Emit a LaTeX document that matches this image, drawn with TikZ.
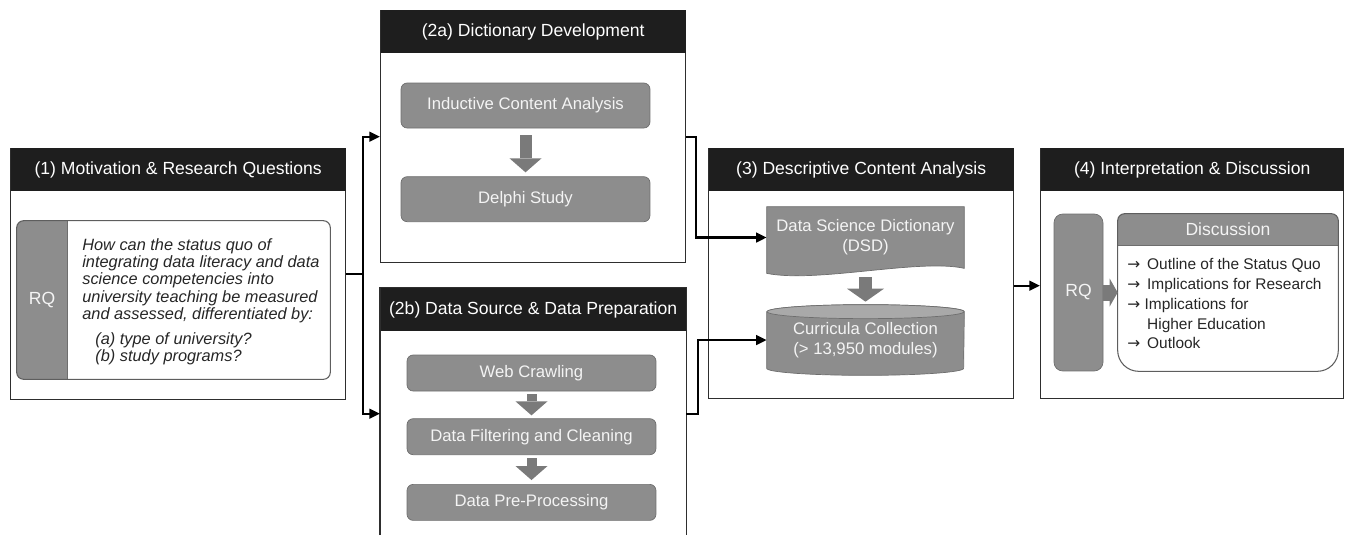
\documentclass[tikz,border=0pt]{standalone}
\usepackage{fontspec}
\setmainfont{Liberation Sans}
\newfontfamily\symfont{DejaVu Sans}
\newcommand\goto{{\symfont →}}
\usetikzlibrary{arrows.meta,positioning,backgrounds}

\definecolor{headblack}{HTML}{1E1E1E}
\definecolor{frameline}{HTML}{2E2E2E}
\definecolor{boxgray}{HTML}{8D8D8D}
\definecolor{boxedge}{HTML}{6E6E6E}
\definecolor{boxtext}{HTML}{F4F4F4}
\definecolor{toplid}{HTML}{A9A9A9}
\definecolor{arrowgray}{HTML}{7A7A7A}
\definecolor{rqline}{HTML}{5E5E5E}

\tikzset{
  panel/.style={draw=frameline, line width=0.8pt, anchor=north west, inner sep=0pt},
  head/.style={fill=headblack, text=white, font=\fontsize{10}{12}\selectfont,
    anchor=north, minimum height=0.86cm, inner sep=0pt},
  stepbox/.style={fill=boxgray, draw=boxedge, rounded corners=3.5pt, text=boxtext,
    font=\fontsize{9.5}{11.5}\selectfont, minimum width=4.98cm, align=center, inner sep=0pt},
  graytext/.style={text=boxtext, font=\fontsize{9.5}{11.5}\selectfont, align=center, inner sep=0pt},
  fatarrow/.style={draw=arrowgray, line width=0.24cm,
    -{Triangle[length=0.28cm, width=0.64cm, line width=0pt]}},
  link/.style={draw=black, line width=1.3pt, -{Triangle[length=6pt, width=5.5pt]}},
  wire/.style={draw=black, line width=1.3pt},
}

\begin{document}
\begin{tikzpicture}[x=0.02cm, y=-0.02cm]
\useasboundingbox (0,0) rectangle (1347,535);
\coordinate (bottom) at (0,535);

% --- stage 1
\node[panel, minimum width=6.7cm, minimum height=5.02cm] (p1) at (10,148) {};
\node[head, minimum width=6.7cm] (p1head) at (p1.north) {(1) Motivation \& Research Questions};

\node[inner sep=0pt, minimum width=6.26cm, minimum height=3.16cm] (rq1) at (173.5,300) {};
\begin{scope}
  \clip (rq1.north west) rectangle ([xshift=1.02cm]rq1.south west);
  \fill[boxgray, rounded corners=4pt] (rq1.north west) rectangle (rq1.south east);
\end{scope}
\draw[boxedge] ([xshift=1.02cm]rq1.north west) -- ([xshift=1.02cm]rq1.south west);
\draw[rqline, line width=0.6pt, rounded corners=4pt] (rq1.north west) rectangle (rq1.south east);
\node[text=boxtext, font=\fontsize{10}{12}\selectfont] (rq1tag) at ([xshift=0.51cm]rq1.west) {RQ};
\node[anchor=north west, inner sep=0pt, align=left, text=black!85,
  font=\fontsize{9.3}{9.9}\selectfont\itshape] (rq1text) at (82,238)
  {How can the status quo of\\
   integrating data literacy and data\\
   science competencies into\\
   university teaching be measured\\
   and assessed, differentiated by:\\[4.2pt]
   \hspace{0.8em}(a) type of university?\\
   \hspace{0.8em}(b) study programs?};

% --- stage 2a
\node[panel, minimum width=6.1cm, minimum height=5.04cm] (p2a) at (380,10) {};
\node[head, minimum width=6.1cm] (p2ahead) at (p2a.north) {(2a) Dictionary Development};
\node[stepbox, minimum height=0.9cm] (ica) at (525.5,105.5) {Inductive Content Analysis};
\node[stepbox, minimum height=0.9cm, below=0.96cm of ica] (delphi) {Delphi Study};
\draw[fatarrow, shorten <=0.14cm, shorten >=0.08cm] (ica) -- (delphi);

% --- stage 2b (runs off the lower edge)
\node[panel, draw=none, minimum width=6.1cm, minimum height=5cm] (p2b) at (380,288) {};
\draw[frameline, line width=0.8pt] (p2b.north west |- bottom) -- (p2b.north west)
  -- (p2b.north east) -- (p2b.north east |- bottom);
\node[head, minimum width=6.1cm] (p2bhead) at (p2b.north) {(2b) Data Source \& Data Preparation};
\node[stepbox, minimum height=0.72cm] (crawl) at (531.5,373) {Web Crawling};
\node[stepbox, minimum height=0.72cm, below=0.54cm of crawl] (filter) {Data Filtering and Cleaning};
\node[stepbox, minimum height=0.72cm, below=0.58cm of filter] (prep) {Data Pre-Processing};
\draw[fatarrow, line width=0.2cm, shorten <=0.06cm, shorten >=0.06cm] (crawl) -- (filter);
\draw[fatarrow, line width=0.2cm, shorten <=0.06cm, shorten >=0.08cm] (filter) -- (prep);

% --- stage 3
\node[panel, minimum width=6.1cm, minimum height=5cm] (p3) at (708,148) {};
\node[head, minimum width=6.1cm] (p3head) at (p3.north) {(3) Descriptive Content Analysis};
\node[graytext, minimum width=3.94cm, minimum height=1.22cm] (dsd) at (865.5,237.5)
  {Data Science Dictionary\\(DSD)};
\node[graytext, minimum width=3.94cm, minimum height=1.12cm] (cc) at (865.5,340)
  {Curricula Collection\\(> 13,950 modules)};
\begin{scope}[on background layer]
  % document sheet with a wavy lower edge
  \filldraw[fill=boxgray, draw=boxedge] (dsd.north west) -- (dsd.north east) -- (dsd.south east)
    .. controls +(-45,-10) and +(50,10) .. ([yshift=-0.1cm]dsd.south west) -- cycle;
  % cylinder
  \filldraw[fill=boxgray, draw=boxedge] (cc.north west) -- (cc.south west)
    arc[start angle=180, end angle=360, x radius=1.97cm, y radius=0.14cm]
    -- (cc.north east) arc[start angle=0, end angle=180, x radius=1.97cm, y radius=0.14cm] -- cycle;
  \filldraw[fill=toplid, draw=boxedge] (cc.north) ellipse[x radius=1.97cm, y radius=0.14cm];
\end{scope}
\draw[fatarrow, line width=0.26cm, -{Triangle[length=0.26cm, width=0.74cm, line width=0pt]},
  shorten <=0.18cm, shorten >=0.2cm] (dsd.south) -- (cc.north);

% --- stage 4
\node[panel, minimum width=6.06cm, minimum height=5cm] (p4) at (1040,148) {};
\node[head, minimum width=6.06cm] (p4head) at (p4.north) {(4) Interpretation \& Discussion};
\node[fill=boxgray, draw=boxedge, rounded corners=5pt, text=boxtext, inner sep=0pt,
  font=\fontsize{10}{12}\selectfont, minimum width=0.98cm, minimum height=3.14cm] (rq4)
  at (1078.5,292.5) {RQ};
\node[inner sep=0pt, minimum width=4.4cm, minimum height=3.14cm] (disc) at (1228,292.5) {};
\begin{scope}
  \clip (disc.north west) rectangle ([yshift=-0.64cm]disc.north east);
  \fill[boxgray, rounded corners=4pt] (disc.north west) rectangle (disc.south east);
\end{scope}
\draw[boxedge] ([yshift=-0.64cm]disc.north west) -- ([yshift=-0.64cm]disc.north east);
\draw[rqline, line width=0.6pt] (disc.west) [rounded corners=12pt] -- (disc.south west)
  -- (disc.south east) -- (disc.east) [rounded corners=4pt] -- (disc.north east)
  -- (disc.north west) -- cycle;
\node[graytext, font=\fontsize{10}{12}\selectfont] (disctitle) at ([yshift=-0.32cm]disc.north) {Discussion};
\node[anchor=north west, inner sep=0pt, align=left, text=black!85,
  font=\fontsize{8.8}{11.3}\selectfont] (disclist) at (1127,258)
  {\goto\ \,Outline of the Status Quo\\
   \goto\ \,Implications for Research\\
   \goto\ Implications for\\
   \phantom{\goto\ \,}Higher Education\\
   \goto\ \,Outlook};
\draw[fatarrow, line width=0.32cm, -{Triangle[length=0.16cm, width=0.56cm, line width=0pt]}]
  (rq4) -- (disc);

% --- flow between stages
\coordinate (split) at ([xshift=0.34cm]p1.east);
\draw[wire] (p1.east) -- (split);
\draw[link] (split) |- (p2a.west);
\draw[link] (split) |- (p2b.west);
\draw[link] (p2a.east) -- ++(10,0) |- (dsd.west);
\draw[link] (p2b.east) -- ++(12,0) |- (cc.west);
\draw[link] ([yshift=-0.24cm]p3.east) -- ([yshift=-0.24cm]p4.west);
\end{tikzpicture}
\end{document}
